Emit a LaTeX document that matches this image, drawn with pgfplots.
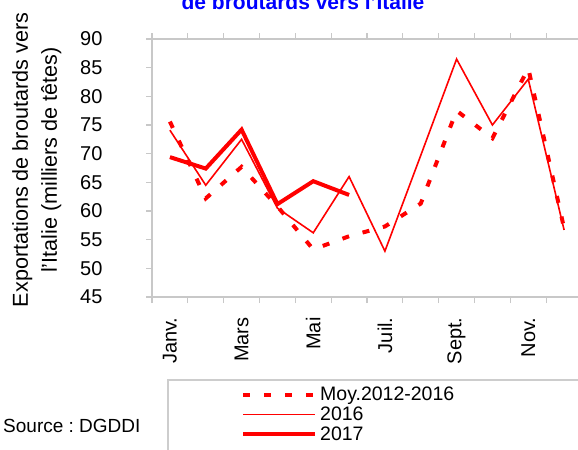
\documentclass[border=0pt]{standalone}
\usepackage{pgfplots}
\pgfplotsset{compat=1.18}
\usepackage{fontspec}
\setmainfont{Liberation Sans}
\frenchspacing
\definecolor{framegray}{RGB}{200,200,200}
\definecolor{legendgray}{RGB}{205,205,205}
\definecolor{pred}{RGB}{255,0,0}
\definecolor{tblue}{RGB}{0,0,255}
\begin{document}
\begin{tikzpicture}
\begin{axis}[
  at={(152bp,-297bp)}, anchor=south west,
  scale only axis, width=430bp, height=258bp,
  xmin=0.5, xmax=12.5, ymin=45, ymax=90,
  xtick={1,3,5,7,9,11},
  xticklabels={Janv.,Mars,Mai,Juil.,Sept.,Nov.},
  minor xtick={0.5,1.5,...,12.5},
  ytick={45,50,...,90},
  axis line style={draw=framegray, line width=1.6bp},
  tick align=outside,
  major tick length=6bp, minor tick length=6bp,
  major x tick style={draw=none},
  minor x tick style={draw=framegray, line width=1.2bp},
  ytick style={draw=framegray, line width=1.2bp},
  /pgf/number format/assume math mode=true,
  tick label style={font=\fontsize{20bp}{23bp}\selectfont},
  xticklabel style={yshift=-11bp, rotate=90, anchor=east},
  yticklabel style={anchor=east, xshift=-40bp},
  legend style={at={(0.207,-0.349)}, anchor=north west, draw=none, fill=none,
    inner sep=0pt, row sep=4.5bp, column sep=3bp,
    font=\fontsize{19.5bp}{22bp}\selectfont, nodes={inner sep=0pt}},
  legend cell align=left,
  legend image code/.code={\draw[#1] (0bp,0bp) -- (72bp,0bp);},
]
\addplot[pred, line width=4bp, dash pattern=on 7bp off 14bp] coordinates {
 (1,75.6)(2,62.2)(3,67.7)(4,60.8)(5,53.3)(6,55.6)(7,57.3)(8,61.3)(9,77.5)(10,72.7)(11,84.9)(12,57.0)};
\addlegendentry{Moy.2012-2016}
\addplot[pred, line width=1.6bp] coordinates {
 (1,74.1)(2,64.5)(3,72.5)(4,60.5)(5,56.2)(6,66.0)(7,53.0)(8,69.7)(9,86.5)(10,75.0)(11,83.0)(12,56.7)};
\addlegendentry{2016}
\addplot[pred, line width=4bp] coordinates {
 (1,69.4)(2,67.4)(3,74.2)(4,61.2)(5,65.2)(6,62.8)};
\addlegendentry{2017}
\end{axis}
\node[font=\bfseries\fontsize{21bp}{25bp}\selectfont, text=tblue, anchor=base] at (303bp,-9bp) {de broutards vers l'Italie};
\node[font=\fontsize{19bp}{22bp}\selectfont, anchor=base west, inner sep=0pt] at (3bp,-432bp) {Source : DGDDI};
\node[font=\fontsize{21.6bp}{29bp}\selectfont, rotate=90, anchor=north, align=center, inner sep=0pt] at (12bp,-160bp) {Exportations de broutards vers\\l'Italie (milliers de têtes)};
\draw[legendgray, line width=1.2bp] (168bp,-600bp) -- (168bp,-380bp) -- (700bp,-380bp);
\pgfresetboundingbox
\useasboundingbox (0bp,0bp) rectangle (578bp,-450bp);
\end{tikzpicture}
\end{document}
